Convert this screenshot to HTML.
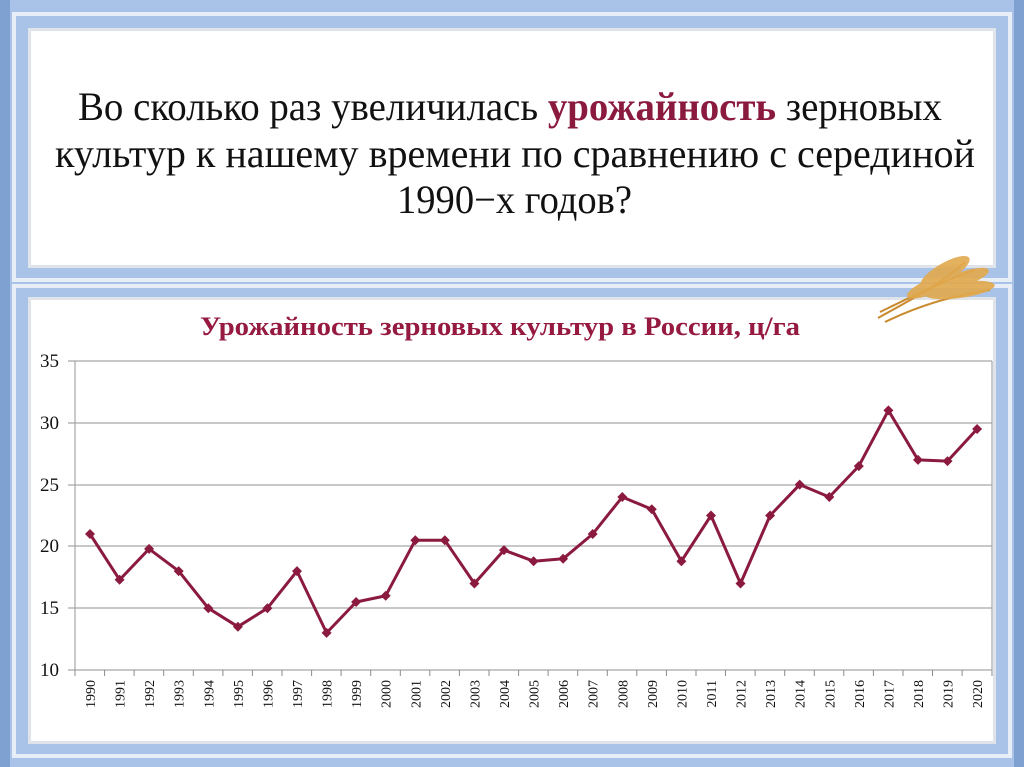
<!DOCTYPE html>
<html><head><meta charset="utf-8"><style>
html,body{margin:0;padding:0;background:#fff}
svg{display:block}
</style></head><body>
<svg width="1024" height="767" viewBox="0 0 1024 767" xmlns="http://www.w3.org/2000/svg">
<defs>
<marker id="d" viewBox="-6 -6 12 12" markerWidth="12" markerHeight="12" refX="0" refY="0" markerUnits="userSpaceOnUse">
<path d="M0,-5 L5,0 L0,5 L-5,0 Z" fill="#8b1a3f"/>
</marker>
</defs>
<rect x="0" y="0" width="1024" height="767" fill="#a9c3e8"/>
<rect x="0" y="0" width="10" height="767" fill="#7fa1d2"/>
<rect x="1014" y="0" width="10" height="767" fill="#7fa1d2"/>
<rect x="12" y="12" width="1000" height="270" fill="#e8eef7"/>
<rect x="16" y="16" width="992" height="262" fill="#a8c2e8"/>
<rect x="28" y="28" width="968" height="240" fill="#dfe3ea"/>
<rect x="31" y="31" width="962" height="234" fill="#ffffff"/>
<rect x="12" y="284" width="1000" height="474" fill="#e8eef7"/>
<rect x="16" y="288" width="992" height="466" fill="#a8c2e8"/>
<rect x="28" y="297" width="968" height="447" fill="#dfe3ea"/>
<rect x="31" y="300" width="962" height="441" fill="#ffffff"/>

<g font-family="Liberation Serif, serif" font-size="40" fill="#111">
<text x="78" y="120" textLength="864" lengthAdjust="spacingAndGlyphs">Во сколько раз увеличилась <tspan font-weight="bold" fill="#8b1a3f">урожайность</tspan> зерновых</text>
<text x="55" y="167" textLength="920" lengthAdjust="spacingAndGlyphs">культур к нашему времени по сравнению с серединой</text>
<text x="397" y="213" textLength="235" lengthAdjust="spacingAndGlyphs">1990−х годов?</text>
</g>

<g stroke="#c98a2e" stroke-width="2" fill="none">
<path d="M878,318 C910,300 940,285 965,262"/><path d="M885,322 C920,305 955,295 990,290"/><path d="M880,312 C915,295 945,280 975,270"/>
</g>
<g fill="#e2a94d" opacity="0.9">
<ellipse cx="945" cy="272" rx="28" ry="9" transform="rotate(-30 945 272)"/>
<ellipse cx="960" cy="290" rx="35" ry="8" transform="rotate(-8 960 290)"/>
<ellipse cx="935" cy="285" rx="30" ry="8" transform="rotate(-22 935 285)"/>
<ellipse cx="965" cy="278" rx="25" ry="7" transform="rotate(-18 965 278)"/>
</g>

<text x="200" y="335" font-family="Liberation Serif, serif" font-size="26" font-weight="bold" fill="#961a40" textLength="600" lengthAdjust="spacingAndGlyphs">Урожайность зерновых культур в России, ц/га</text>

<g stroke="#a6a6a6" stroke-width="1.2">
<line x1="68" y1="361" x2="992" y2="361"/>
<line x1="68" y1="423" x2="992" y2="423"/>
<line x1="68" y1="485" x2="992" y2="485"/>
<line x1="68" y1="546" x2="992" y2="546"/>
<line x1="68" y1="608" x2="992" y2="608"/>
<line x1="68" y1="670" x2="992" y2="670"/>
<line x1="75" y1="361" x2="75" y2="670"/>
<line x1="992" y1="361" x2="992" y2="670"/>
</g>
<g stroke="#8a8a8a" stroke-width="1">
<path d="M75,670v6M104.6,670v6M134.1,670v6M163.7,670v6M193.3,670v6M222.9,670v6M252.4,670v6M282,670v6M311.6,670v6M341.1,670v6M370.7,670v6M400.3,670v6M429.8,670v6M459.4,670v6M489,670v6M518.6,670v6M548.1,670v6M577.7,670v6M607.3,670v6M636.8,670v6M666.4,670v6M696,670v6M725.5,670v6M755.1,670v6M784.7,670v6M814.3,670v6M843.8,670v6M873.4,670v6M903,670v6M932.5,670v6M962.1,670v6M992,670v6"/>
</g>
<g font-family="Liberation Serif, serif" font-size="19" text-anchor="end" fill="#111">
<text x="59" y="367">35</text><text x="59" y="429">30</text><text x="59" y="491">25</text>
<text x="59" y="552">20</text><text x="59" y="614">15</text><text x="59" y="676">10</text>
</g>
<g font-family="Liberation Serif, serif" font-size="14" text-anchor="end" fill="#111">
<text transform="translate(95,680) rotate(-90)">1990</text>
<text transform="translate(124.6,680) rotate(-90)">1991</text>
<text transform="translate(154.1,680) rotate(-90)">1992</text>
<text transform="translate(183.7,680) rotate(-90)">1993</text>
<text transform="translate(213.3,680) rotate(-90)">1994</text>
<text transform="translate(242.9,680) rotate(-90)">1995</text>
<text transform="translate(272.4,680) rotate(-90)">1996</text>
<text transform="translate(302,680) rotate(-90)">1997</text>
<text transform="translate(331.6,680) rotate(-90)">1998</text>
<text transform="translate(361.1,680) rotate(-90)">1999</text>
<text transform="translate(390.7,680) rotate(-90)">2000</text>
<text transform="translate(420.3,680) rotate(-90)">2001</text>
<text transform="translate(449.8,680) rotate(-90)">2002</text>
<text transform="translate(479.4,680) rotate(-90)">2003</text>
<text transform="translate(509,680) rotate(-90)">2004</text>
<text transform="translate(538.6,680) rotate(-90)">2005</text>
<text transform="translate(568.1,680) rotate(-90)">2006</text>
<text transform="translate(597.7,680) rotate(-90)">2007</text>
<text transform="translate(627.3,680) rotate(-90)">2008</text>
<text transform="translate(656.8,680) rotate(-90)">2009</text>
<text transform="translate(686.4,680) rotate(-90)">2010</text>
<text transform="translate(716,680) rotate(-90)">2011</text>
<text transform="translate(745.5,680) rotate(-90)">2012</text>
<text transform="translate(775.1,680) rotate(-90)">2013</text>
<text transform="translate(804.7,680) rotate(-90)">2014</text>
<text transform="translate(834.3,680) rotate(-90)">2015</text>
<text transform="translate(863.8,680) rotate(-90)">2016</text>
<text transform="translate(893.4,680) rotate(-90)">2017</text>
<text transform="translate(923,680) rotate(-90)">2018</text>
<text transform="translate(952.5,680) rotate(-90)">2019</text>
<text transform="translate(982.1,680) rotate(-90)">2020</text>
</g>
<polyline fill="none" stroke="#8b1a3f" stroke-width="3" stroke-linejoin="round"
marker-start="url(#d)" marker-mid="url(#d)" marker-end="url(#d)"
points="90,534 119.6,579.8 149.1,548.9 178.7,571.1 208.3,608.2 237.9,626.7 267.4,608.2 297,571.1 326.6,632.9 356.1,602 385.7,595.8 415.3,540.2 444.8,540.2 474.4,583.5 504,550.1 533.6,561.2 563.1,558.8 592.7,534 622.3,497 651.8,509.3 681.4,561.2 711,515.5 740.5,583.5 770.1,515.5 799.7,484.6 829.3,497 858.8,466.1 888.4,410.4 918,459.9 947.5,461.1 977.1,429"/>
</svg>
</body></html>
